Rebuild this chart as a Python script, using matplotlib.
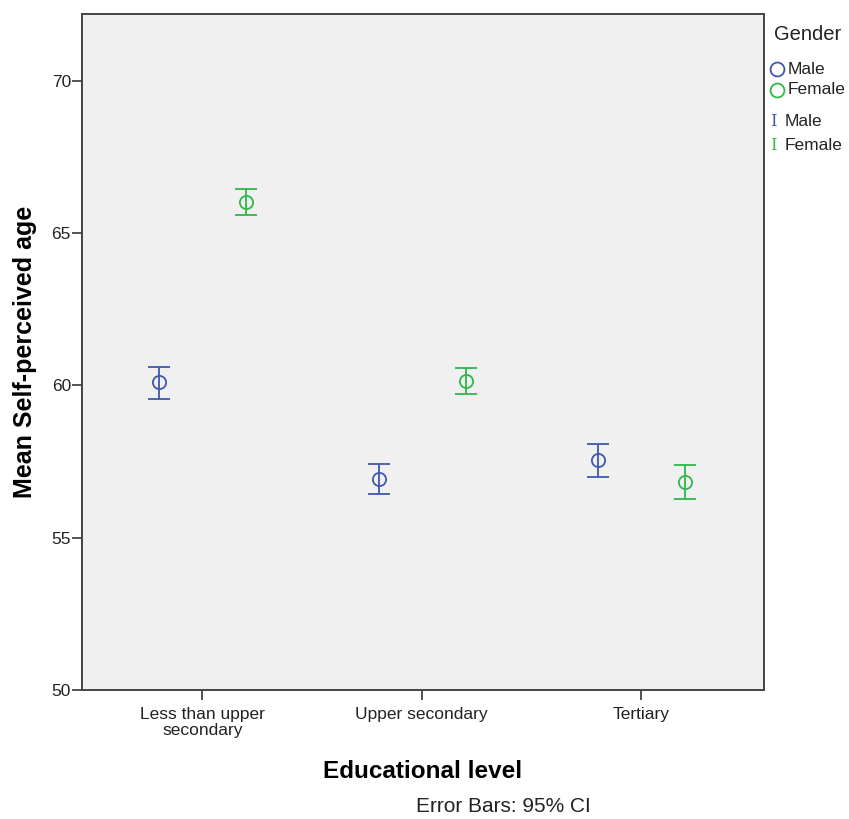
import matplotlib
matplotlib.use('Agg')
import matplotlib.pyplot as plt
from matplotlib.lines import Line2D

plt.rcParams['font.family'] = ['Liberation Sans', 'DejaVu Sans']

categories = ['Less than upper\nsecondary', 'Upper secondary', 'Tertiary']
male_mean = [60.11, 56.93, 57.55]
male_low = [59.56, 56.45, 57.00]
male_high = [60.62, 57.42, 58.07]
female_mean = [66.02, 60.15, 56.84]
female_low = [65.59, 59.72, 56.27]
female_high = [66.46, 60.58, 57.38]

blue = '#3e58ac'
green = '#2eb848'
frame = '#444444'

fig = plt.figure(figsize=(8.49, 8.19), dpi=100)
ax = fig.add_axes([82/849, 1 - 690/819, (764-82)/849, (690-14)/819])
ax.set_facecolor('#f0f0f0')

x = list(range(len(categories)))
for means, lo, hi, col, dx in [(male_mean, male_low, male_high, blue, -0.195),
                               (female_mean, female_low, female_high, green, 0.2)]:
    xs = [i + dx for i in x]
    err = [[m - l for m, l in zip(means, lo)], [h - m for m, h in zip(means, hi)]]
    ax.errorbar(xs, means, yerr=err, fmt='none', ecolor=col, elinewidth=1.3,
                capsize=8, capthick=1.3)
    ax.plot(xs, means, 'o', mfc='none', mec=col, ms=9.5, mew=1.3)

ax.set_xlim(-0.548, 2.56)
ax.set_ylim(50, 72.2)
ax.set_xticks(x)
ax.set_xticklabels(categories, fontsize=12.5, color='#222222', linespacing=1.1)
ax.set_yticks([50, 55, 60, 65, 70])
ax.tick_params(axis='both', direction='out', length=7, width=1.3, color=frame,
               labelsize=12.5, labelcolor='#222222')
ax.tick_params(axis='y', pad=1)
ax.tick_params(axis='x', pad=5)
for s in ax.spines.values():
    s.set_color(frame)
    s.set_linewidth(1.4)

ax.set_xlabel('Educational level', fontsize=17.5, fontweight='bold', labelpad=16)
ax.set_ylabel('Mean Self-perceived age', fontsize=18, fontweight='bold', labelpad=10)
fig.text(503/849, 1 - 806/819, 'Error Bars: 95% CI', fontsize=15, ha='center',
         va='center', color='#222222')

# legend drawn in figure coordinates to the right of the plot
fig.text(774/849, 1 - 35/819, 'Gender', fontsize=14.5, va='center', color='#222222')
for yy, col, lab in [(69, blue, 'Male'), (90, green, 'Female')]:
    fig.add_artist(Line2D([777/849], [1 - yy/819], marker='o', mfc='none', mec=col,
                          ms=10, mew=1.3, transform=fig.transFigure))
    fig.text(788/849, 1 - yy/819, lab, fontsize=12.5, va='center', color='#222222')
for yy, col, lab in [(122, blue, 'Male'), (145, green, 'Female')]:
    fig.text(773/849, 1 - yy/819, 'I', fontsize=12, va='center', ha='center',
             color=col, family='DejaVu Serif')
    fig.text(785/849, 1 - yy/819, lab, fontsize=12.5, va='center', color='#222222')

fig.savefig('out.png', dpi=100, facecolor='white')
